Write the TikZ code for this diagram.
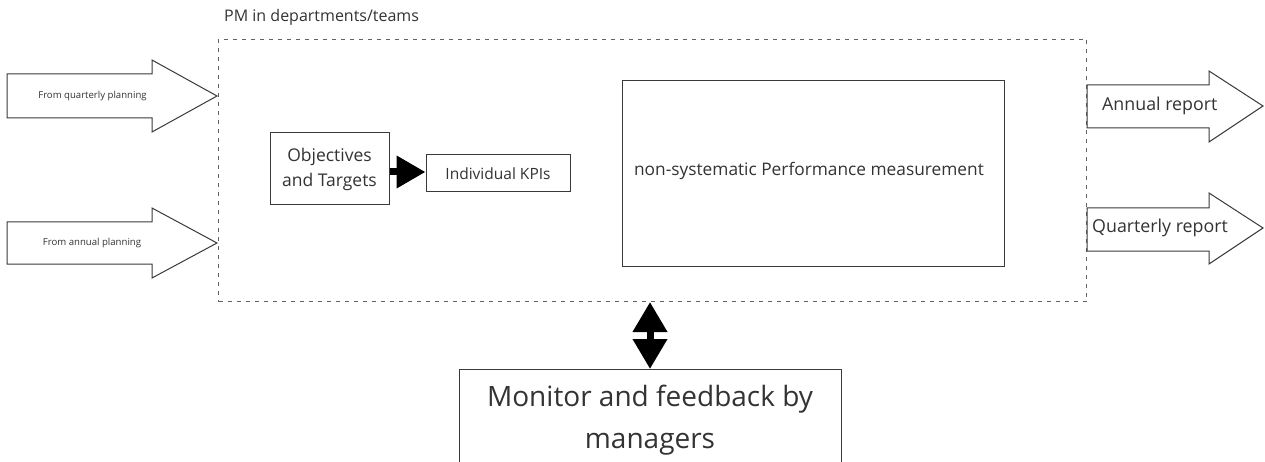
\documentclass[tikz,border=0pt]{standalone}
\usepackage{fontspec}
\setmainfont{Open Sans}
\usetikzlibrary{arrows.meta}
\definecolor{ink}{HTML}{333333}
\definecolor{edge}{HTML}{3A3A3A}
\tikzset{
  box/.style={draw=edge, line width=1pt, fill=white, inner sep=0pt, text=ink},
  blockarrow/.style={draw=edge, line width=1pt, fill=white, line join=miter},
  lbl/.style={text=ink, inner sep=0pt, align=center},
  frame/.style={draw=edge!80, line width=1pt, dash pattern=on 4pt off 5pt},
  bigarrow/.style={line width=7pt, -{Triangle[length=29pt,width=31pt]}},
  dblarrow/.style={line width=7pt, {Triangle[length=30pt,width=33pt]}-{Triangle[length=30pt,width=33pt]}},
}
\begin{document}
\begin{tikzpicture}[x=1pt,y=-1pt]
\useasboundingbox (0,0) rectangle (1265,462);
\clip (0,0) rectangle (1265,462);

% dashed frame
\node[frame, minimum width=868pt, minimum height=262pt, inner sep=0pt, anchor=north west] (pm) at (218,39) {};
\node[lbl, font=\fontsize{16}{19}\selectfont, anchor=base west] (pmlbl) at (224,22) {PM in departments/teams};

% left input arrows
\draw[blockarrow] (7,74) -- (152,74) -- (152,60) -- (217,96) -- (152,132) -- (152,118) -- (7,118) -- cycle;
\node[lbl, font=\fontsize{9.6}{11}\selectfont] (inq) at (92.5,96) {From quarterly planning};
\draw[blockarrow] (7,222) -- (152,222) -- (152,208) -- (217,243) -- (152,278) -- (152,264) -- (7,264) -- cycle;
\node[lbl, font=\fontsize{9.6}{11}\selectfont] (ina) at (92,243) {From annual planning};

% right output arrows
\draw[blockarrow] (1087,85) -- (1209,85) -- (1209,71) -- (1263,106) -- (1209,142) -- (1209,128) -- (1087,128) -- cycle;
\node[lbl, font=\fontsize{17.8}{21}\selectfont, anchor=west] (outa) at (1102,106) {Annual report};
\draw[blockarrow] (1087,208) -- (1209,208) -- (1209,193) -- (1263,228) -- (1209,264) -- (1209,251) -- (1087,251) -- cycle;
\node[lbl, font=\fontsize{17.8}{21}\selectfont, anchor=west] (outq) at (1092,228) {Quarterly report};

% inner boxes
\node[box, minimum width=119pt, minimum height=72pt, font=\fontsize{17.5}{25}\selectfont, align=center] (obj) at (329.5,169) {Objectives\\and Targets};
\node[box, minimum width=144pt, minimum height=37pt, font=\fontsize{15.5}{19}\selectfont] (kpi) at (498,173.5) {Individual KPIs};
\draw[bigarrow] (obj.east |- 0,172) -- (kpi.west |- 0,172);

\node[box, minimum width=382pt, minimum height=186pt, anchor=north west] (pmeas) at (622,80) {};
\node[lbl, font=\fontsize{17.3}{20}\selectfont] (pmtxt) at (809,171) {non-systematic Performance measurement};

% monitor box
\node[box, minimum width=382pt, minimum height=150pt, anchor=north] (mon) at (650,369) {};
\node[lbl, font=\fontsize{28}{42}\selectfont] (montxt) at (650,420) {Monitor and feedback by\\managers};

\draw[dblarrow] (pm.south -| mon.north) -- (mon.north);
\end{tikzpicture}
\end{document}
